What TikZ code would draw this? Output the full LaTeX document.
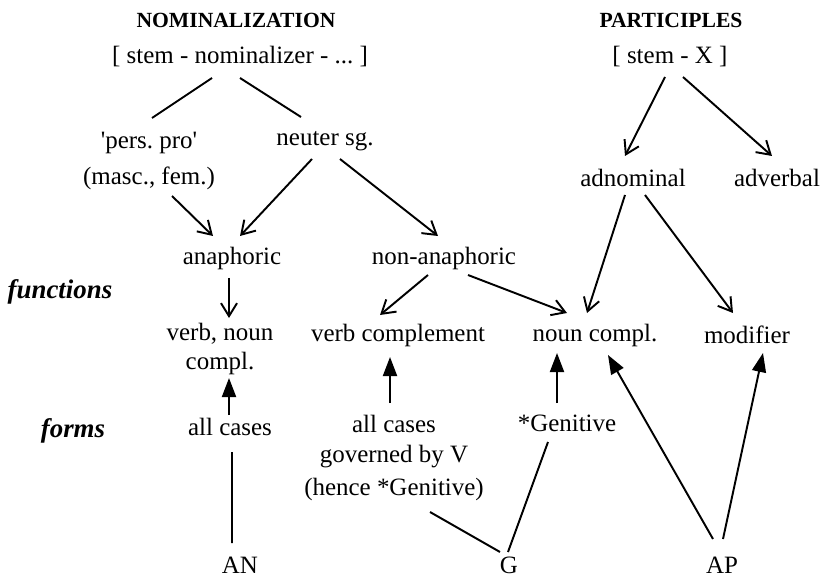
\documentclass[tikz,border=0pt]{standalone}
\usepackage{fontspec}
\setmainfont{Liberation Serif}[Ligatures=TeXOff]
\usetikzlibrary{arrows.meta,calc}

\begin{document}
\begin{tikzpicture}
\tikzset{word/.style = {font=\fontsize{14.2}{17}\selectfont\frenchspacing, inner sep=0pt, align=center}}
\tikzset{head/.style = {font=\fontsize{12.3}{15}\selectfont\bfseries, inner sep=0pt}}
\tikzset{tier/.style = {font=\fontsize{15.3}{18}\selectfont\bfseries\itshape, inner sep=0pt}}
\tikzset{link/.style = {line width=1.1pt}}
\tikzset{edge/.style = {link, ->, > = {Straight Barb[length=2.6mm,width=3.2mm]}}}
\tikzset{form/.style = {link, -{Triangle[length=3.8mm,width=2.8mm]}}}
\useasboundingbox (0,0) rectangle (16.56,-11.52);
%headings
\node[head] (nom) at (4.72,-0.40) {NOMINALIZATION};
\node[word] (nomstem) at (4.80,-1.14) {[ stem - nominalizer - ... ]};
\node[head] (part) at (13.42,-0.40) {PARTICIPLES};
\node[word] (partstem) at (13.40,-1.14) {[ stem - X ]};

%types
\node[word] (pers) at (2.98,-3.22) {'pers. pro'\\[4pt](masc., fem.)};
\node[word] (neuter) at (6.50,-2.82) {neuter sg.};
\node[word] (adnom) at (12.66,-3.56) {adnominal};
\node[word] (adverb) at (15.54,-3.56) {adverbal};
\node[word] (anaph) at (4.64,-5.16) {anaphoric};
\node[word] (nonanaph) at (8.88,-5.16) {non-anaphoric};

% ----- functions
\node[tier] (functions) at (1.20,-5.84) {functions};
\node[word] (verbnoun) at (4.40,-6.98) {verb, noun\\[-1pt]compl.};
\node[word] (verbcomp) at (7.96,-6.70) {verb complement};
\node[word] (nouncompl) at (11.90,-6.70) {noun compl.};
\node[word] (modifier) at (14.94,-6.70) {modifier};

% ----- forms
\node[tier] (forms) at (1.46,-8.62) {forms};
\node[word] (allcases) at (4.60,-8.54) {all cases};
\node[word] (allgov) at (7.88,-9.16) {all cases\\governed by V\\[2pt](hence *Genitive)};
\node[word] (gen) at (11.34,-8.46) {*Genitive};
\node[word] (AN) at (4.80,-11.30) {AN};
\node[word] (G) at (10.18,-11.30) {G};
\node[word] (AP) at (14.44,-11.30) {AP};

%edges
\draw[link] ($(nomstem)+(-0.56,-0.42)$) to ($(pers)+(0.06,0.86)$);
\draw[link] ($(nomstem)+(0,-0.42)$) to ($(neuter)+(-0.48,0.48)$);
\draw[edge] ($(pers)+(0.46,-0.70)$) to ($(anaph)+(-0.38,0.44)$);
\draw[edge] ($(neuter)+(-0.26,-0.36)$) to ($(anaph)+(0.16,0.44)$);
\draw[edge] ($(neuter)+(0.30,-0.36)$) to ($(nonanaph)+(-0.12,0.44)$);
\draw[edge] ($(anaph)+(-0.06,-0.40)$) to ($(anaph)+(-0.06,-1.20)$);
\draw[edge] ($(nonanaph)+(-0.32,-0.34)$) to ($(verbcomp)+(-0.36,0.40)$);
\draw[edge] ($(nonanaph)+(0.48,-0.34)$) to ($(nouncompl)+(-0.56,0.44)$);
\draw[edge] ($(partstem)+(-0.10,-0.40)$) to ($(adnom)+(-0.16,0.44)$);
\draw[edge] ($(partstem)+(0.26,-0.40)$) to ($(adverb)+(-0.10,0.44)$);
\draw[edge] ($(adnom)+(-0.16,-0.34)$) to ($(nouncompl)+(-0.16,0.44)$);
\draw[edge] ($(adnom)+(0.24,-0.34)$) to ($(modifier)+(-0.28,0.44)$);

%---- forms to functions
\draw[form] ($(allcases)+(-0.02,0.24)$) to ($(allcases)+(-0.02,0.98)$);
\draw[form] ($(allgov)+(-0.08,1.10)$) to ($(verbcomp)+(-0.16,-0.44)$);
\draw[form] ($(gen)+(-0.20,0.40)$) to ($(nouncompl)+(-0.76,-0.36)$);
\draw[link] ($(AN)+(-0.16,0.44)$) to ($(allcases)+(0.04,-0.50)$);
\draw[link] ($(G)+(-0.18,0.26)$) to ($(allgov)+(0.72,-1.08)$);
\draw[link] ($(G)+(-0.02,0.26)$) to ($(gen)+(-0.38,-0.38)$);
\draw[form] ($(AP)+(-0.18,0.52)$) to ($(nouncompl)+(0.26,-0.40)$);
\draw[form] ($(AP)+(0.02,0.52)$) to ($(modifier)+(0.32,-0.36)$);
\end{tikzpicture}
\end{document}
